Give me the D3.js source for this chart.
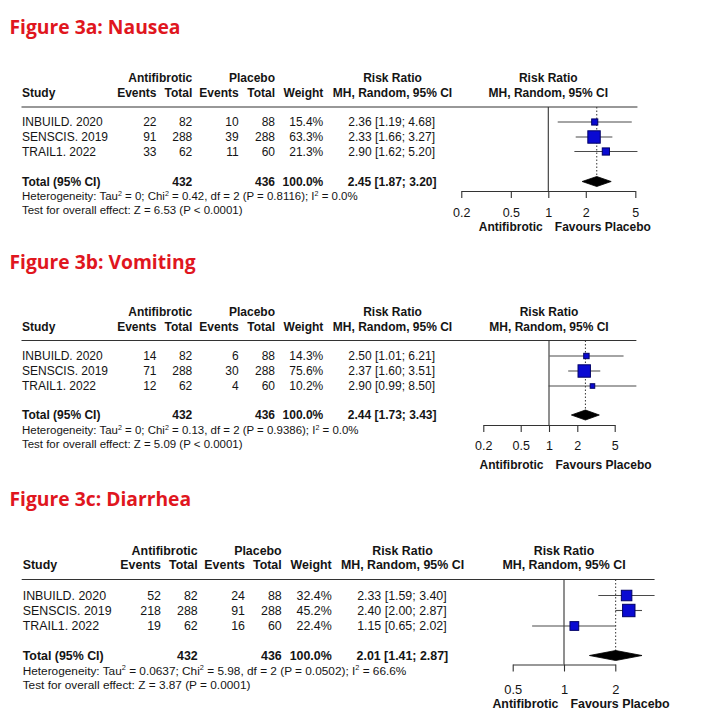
<!DOCTYPE html>
<html><head><meta charset="utf-8">
<script src="https://cdn.jsdelivr.net/npm/d3@7"></script>
<style>body{margin:0;background:#fff}</style></head>
<body><svg id="c" width="701" height="720"></svg>
<script>
// ---------------- DATA ----------------
const studies = ["INBUILD. 2020", "SENSCIS. 2019", "TRAIL1. 2022"];
const titles = ["Figure 3a: Nausea", "Figure 3b: Vomiting", "Figure 3c: Diarrhea"];
const groupLabels = ["Antifibrotic", "Placebo"];

const nauseaEventsA = [22, 91, 33];
const nauseaTotalA = [82, 288, 62];
const nauseaEventsP = [10, 39, 11];
const nauseaTotalP = [88, 288, 60];
const nauseaWeight = [15.4, 63.3, 21.3];
const nauseaRR = [2.36, 2.33, 2.90];
const nauseaLo = [1.19, 1.66, 1.62];
const nauseaHi = [4.68, 3.27, 5.20];

const vomitingEventsA = [14, 71, 12];
const vomitingTotalA = [82, 288, 62];
const vomitingEventsP = [6, 30, 4];
const vomitingTotalP = [88, 288, 60];
const vomitingWeight = [14.3, 75.6, 10.2];
const vomitingRR = [2.50, 2.37, 2.90];
const vomitingLo = [1.01, 1.60, 0.99];
const vomitingHi = [6.21, 3.51, 8.50];

const diarrheaEventsA = [52, 218, 19];
const diarrheaTotalA = [82, 288, 62];
const diarrheaEventsP = [24, 91, 16];
const diarrheaTotalP = [88, 288, 60];
const diarrheaWeight = [32.4, 45.2, 22.4];
const diarrheaRR = [2.33, 2.40, 1.15];
const diarrheaLo = [1.59, 2.00, 0.65];
const diarrheaHi = [3.40, 2.87, 2.02];

const pooledTotalA = [432, 432, 432];
const pooledTotalP = [436, 436, 436];
const pooledRR = [2.45, 2.44, 2.01];
const pooledLo = [1.87, 1.73, 1.41];
const pooledHi = [3.20, 3.43, 2.87];

const hetTau2 = ["0", "0", "0.0637"];
const hetChi2 = ["0.42", "0.13", "5.98"];
const hetDf = ["2", "2", "2"];
const hetP = ["0.8116", "0.9386", "0.0502"];
const hetI2 = ["0.0%", "0.0%", "66.6%"];
const testZ = ["6.53", "5.09", "3.87"];
const testP = ["< 0.0001", "< 0.0001", "= 0.0001"];

const ticksAB = [0.2, 0.5, 1, 2, 5];
const tickLabelsAB = ["0.2", "0.5", "1", "2", "5"];
const ticksC = [0.5, 1, 2];
const tickLabelsC = ["0.5", "1", "2"];
const favLeft = "Antifibrotic";
const favRight = "Favours Placebo";

// ---------------- LAYOUT ----------------
const panels = [
  {eA: nauseaEventsA, tA: nauseaTotalA, eP: nauseaEventsP, tP: nauseaTotalP, w: nauseaWeight, rr: nauseaRR, lo: nauseaLo, hi: nauseaHi,
   ticks: ticksAB, tickLabels: tickLabelsAB,
   L: {yTitle: 27, yGrp: 78, yHdr: 93, yLine: 107, rows: [122, 137, 151.5], yTot: 181.5, yHet: 196, yTest: 209.5,
       yAxis: 191, yTick: 213, yFav: 227, one: 548.3, dec: 124.5, cols: [156.5, 192.3, 238.7, 275, 323.3, 435],
       rrHdr: 392.5, fs: 12, xStudy: 22, xLine: 21.5}},
  {eA: vomitingEventsA, tA: vomitingTotalA, eP: vomitingEventsP, tP: vomitingTotalP, w: vomitingWeight, rr: vomitingRR, lo: vomitingLo, hi: vomitingHi,
   ticks: ticksAB, tickLabels: tickLabelsAB,
   L: {yTitle: 262, yGrp: 311.5, yHdr: 326.5, yLine: 340.5, rows: [356, 371, 386], yTot: 415, yHet: 430, yTest: 444,
       yAxis: 425, yTick: 446, yFav: 464.5, one: 549, dec: 94, cols: [156.5, 192.3, 238.7, 275, 323.3, 435],
       rrHdr: 392.5, fs: 12, xStudy: 22, xLine: 21.5}},
  {eA: diarrheaEventsA, tA: diarrheaTotalA, eP: diarrheaEventsP, tP: diarrheaTotalP, w: diarrheaWeight, rr: diarrheaRR, lo: diarrheaLo, hi: diarrheaHi,
   ticks: ticksC, tickLabels: tickLabelsC,
   L: {yTitle: 499, yGrp: 550.5, yHdr: 565, yLine: 579.5, rows: [595.5, 610.5, 626], yTot: 655.5, yHet: 670.5, yTest: 684.5,
       yAxis: 664.5, yTick: 689, yFav: 703.5, one: 564, dec: 170.4, cols: [161, 197.7, 245, 281.7, 331.7, 446.7],
       rrHdr: 402.5, fs: 12.4, xStudy: 22.7, xLine: 21.7}}
];

const svg = d3.select("#c");
const FONT = "'Liberation Sans', Arial, sans-serif";
const TXT = "#141414";
const fmt2 = d => d.toFixed(2);
const rrLabel = (r, l, h) => `${fmt2(r)} [${fmt2(l)}; ${fmt2(h)}]`;

function txt(g, x, y, s, opt = {}) {
  return g.append("text").attr("x", x).attr("y", y).attr("dy", "0.35em")
    .attr("font-family", FONT).attr("font-size", opt.fs || 12)
    .attr("font-weight", opt.bold ? "bold" : "normal")
    .attr("text-anchor", opt.anchor || "start").attr("fill", TXT).text(s);
}
function supText(g, x, y, parts, fs) {
  const t = g.append("text").attr("x", x).attr("y", y).attr("dy", "0.35em")
    .attr("font-family", FONT).attr("font-size", fs).attr("fill", TXT);
  parts.forEach(p => {
    if (p.sup) t.append("tspan").attr("font-size", fs * 0.62).attr("dy", -fs * 0.38).text(p.s);
    else if (p.down) t.append("tspan").attr("dy", fs * 0.38).text(p.s);
    else t.append("tspan").text(p.s);
  });
}

panels.forEach((P, k) => {
  const L = P.L, g = svg.append("g"), fs = L.fs;
  // Title
  g.append("text").attr("x", 9.5).attr("y", L.yTitle).attr("dy", "0.36em")
    .attr("font-family", "'Open Sans', 'Noto Sans', sans-serif").attr("font-weight", "bold")
    .attr("font-size", 19.3).attr("fill", "#e0161e").text(titles[k]);

  const c = L.cols;
  // Headers
  txt(g, c[1], L.yGrp, groupLabels[0], {bold: true, anchor: "end", fs});
  txt(g, c[3], L.yGrp, groupLabels[1], {bold: true, anchor: "end", fs});
  txt(g, L.rrHdr, L.yGrp, "Risk Ratio", {bold: true, anchor: "middle", fs});
  txt(g, L.xStudy, L.yHdr, "Study", {bold: true, fs});
  txt(g, c[0], L.yHdr, "Events", {bold: true, anchor: "end", fs});
  txt(g, c[1], L.yHdr, "Total", {bold: true, anchor: "end", fs});
  txt(g, c[2], L.yHdr, "Events", {bold: true, anchor: "end", fs});
  txt(g, c[3], L.yHdr, "Total", {bold: true, anchor: "end", fs});
  txt(g, c[4], L.yHdr, "Weight", {bold: true, anchor: "end", fs});
  txt(g, L.rrHdr, L.yHdr, "MH, Random, 95% CI", {bold: true, anchor: "middle", fs});

  // Scale (log)
  const x = d3.scaleLog().domain([1, 10]).range([L.one, L.one + L.dec]);
  txt(g, x(1), L.yGrp, "Risk Ratio", {bold: true, anchor: "middle", fs});
  txt(g, x(1), L.yHdr, "MH, Random, 95% CI", {bold: true, anchor: "middle", fs});

  const maxHi = d3.max(P.hi);
  g.append("line").attr("x1", L.xLine).attr("x2", x(maxHi)).attr("y1", L.yLine).attr("y2", L.yLine)
    .attr("stroke", "#333").attr("stroke-width", 1.1);

  // Study rows
  studies.forEach((s, i) => {
    const y = L.rows[i];
    txt(g, L.xStudy, y, s, {fs});
    txt(g, c[0], y, P.eA[i], {anchor: "end", fs});
    txt(g, c[1], y, P.tA[i], {anchor: "end", fs});
    txt(g, c[2], y, P.eP[i], {anchor: "end", fs});
    txt(g, c[3], y, P.tP[i], {anchor: "end", fs});
    txt(g, c[4], y, P.w[i].toFixed(1) + "%", {anchor: "end", fs});
    txt(g, c[5], y, rrLabel(P.rr[i], P.lo[i], P.hi[i]), {anchor: "end", fs});
  });
  // Total row
  txt(g, L.xStudy, L.yTot, "Total (95% CI)", {bold: true, fs});
  txt(g, c[1], L.yTot, pooledTotalA[k], {bold: true, anchor: "end", fs});
  txt(g, c[3], L.yTot, pooledTotalP[k], {bold: true, anchor: "end", fs});
  txt(g, c[4], L.yTot, "100.0%", {bold: true, anchor: "end", fs});
  txt(g, c[5] + 1.5, L.yTot, rrLabel(pooledRR[k], pooledLo[k], pooledHi[k]), {bold: true, anchor: "end", fs});

  const sfs = fs * 0.955;
  supText(g, L.xStudy, L.yHet, [
    {s: "Heterogeneity: Tau"}, {s: "2", sup: true}, {s: ` = ${hetTau2[k]}; Chi`, down: true}, {s: "2", sup: true},
    {s: ` = ${hetChi2[k]}, df = ${hetDf[k]} (P = ${hetP[k]}); I`, down: true}, {s: "2", sup: true},
    {s: ` = ${hetI2[k]}`, down: true}], sfs);
  supText(g, L.xStudy, L.yTest, [{s: `Test for overall effect: Z = ${testZ[k]} (P ${testP[k]})`}], sfs);

  // Reference line at 1
  g.append("line").attr("x1", x(1)).attr("x2", x(1)).attr("y1", L.yLine).attr("y2", L.yAxis)
    .attr("stroke", "#333").attr("stroke-width", 1.1);
  // Dotted pooled line
  g.append("line").attr("x1", x(pooledRR[k])).attr("x2", x(pooledRR[k])).attr("y1", L.yLine).attr("y2", L.yTot)
    .attr("stroke", "#333").attr("stroke-width", 1).attr("stroke-dasharray", "1.5,2");

  // CIs and squares
  const wMax = d3.max(P.w), side = 12.4;
  studies.forEach((s, i) => {
    const y = L.rows[i];
    g.append("line").attr("x1", x(P.lo[i])).attr("x2", x(P.hi[i])).attr("y1", y).attr("y2", y)
      .attr("stroke", "#4a4a4a").attr("stroke-width", 1.1);
    const sz = side * Math.sqrt(P.w[i] / wMax);
    g.append("rect").attr("x", x(P.rr[i]) - sz / 2).attr("y", y - sz / 2).attr("width", sz).attr("height", sz)
      .attr("fill", "#0a0ad2").attr("stroke", "#000066").attr("stroke-width", 1);
  });
  // Diamond
  const dh = 5;
  g.append("path")
    .attr("d", `M${x(pooledLo[k])},${L.yTot} L${x(pooledRR[k])},${L.yTot - dh} L${x(pooledHi[k])},${L.yTot} L${x(pooledRR[k])},${L.yTot + dh} Z`)
    .attr("fill", "#000").attr("stroke", "#000").attr("stroke-width", 0.8);

  // Axis
  const xa = d3.scaleLog().domain([P.ticks[0], P.ticks[P.ticks.length - 1]])
    .range([x(P.ticks[0]), x(P.ticks[P.ticks.length - 1])]);
  const ax = g.append("g").attr("transform", `translate(0,${L.yAxis})`)
    .call(d3.axisBottom(xa).tickValues(P.ticks).tickSize(7).tickSizeOuter(0)
      .tickFormat((d, i) => P.tickLabels[i]));
  ax.select(".domain").attr("stroke", "#333").attr("stroke-width", 1.1);
  ax.selectAll(".tick line").attr("stroke", "#333").attr("stroke-width", 1.1);
  ax.selectAll(".tick text").attr("font-family", FONT).attr("font-size", fs + 0.5).attr("fill", TXT)
    .attr("y", L.yTick - L.yAxis).attr("dy", "0.35em");

  txt(g, x(1) - 5.5, L.yFav, favLeft, {bold: true, anchor: "end", fs});
  txt(g, x(1) + 6.5, L.yFav, favRight, {bold: true, anchor: "start", fs});
});
</script></body></html>
